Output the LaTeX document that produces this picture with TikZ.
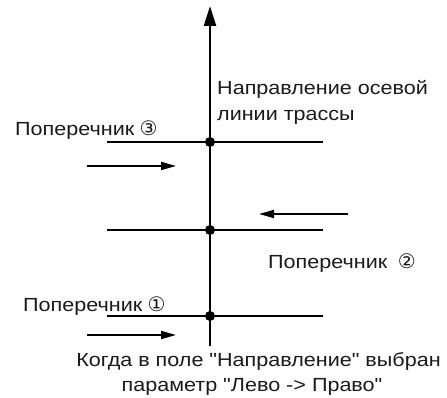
\documentclass[tikz,border=0pt]{standalone}
\usepackage{fontspec}
\setmainfont{Liberation Sans}[Ligatures=TeXOff]
\newfontfamily\circfont{DejaVu Sans}
\usetikzlibrary{arrows.meta}
\definecolor{ink}{HTML}{1A1A1A}
\newcommand{\wide}[1]{\scalebox{1.135}[1]{#1}}
\newcommand{\circd}[1]{{\circfont\fontsize{20}{24}\selectfont #1}}
\begin{document}
\begin{tikzpicture}[x=1pt,y=-1pt,
  lbl/.style={font=\fontsize{19}{24}\selectfont, inner sep=0pt, text=ink},
  cross/.style={line width=1.2pt},
  dir/.style={line width=1.8pt, -{Triangle[length=15pt,width=8pt]}},
  pt/.style={circle, fill=black, inner sep=0pt, minimum size=10pt}]
\useasboundingbox (0,0) rectangle (447,398);
\coordinate (top) at (210,6);
\coordinate (bot) at (210,346);
\node[pt] (p3) at (210,142) {};
\node[pt] (p2) at (210,230) {};
\node[pt] (p1) at (210,316) {};
\draw[line width=2.4pt, -{Triangle[length=20pt,width=12pt]}] (bot) -- (top);
\foreach \y/\n in {142/c, 230/b, 316/a} {
  \coordinate (\n L) at (107,\y);
  \coordinate (\n R) at (323,\y);
  \draw[cross] (\n L) -- (\n R);
}
\coordinate (a1s) at (87,166); \coordinate (a1e) at (176,166);
\coordinate (a2s) at (348,214); \coordinate (a2e) at (259,214);
\coordinate (a3s) at (87,335); \coordinate (a3e) at (176,335);
\draw[dir] (a1s) -- (a1e);
\draw[dir] (a2s) -- (a2e);
\draw[dir] (a3s) -- (a3e);
\node[lbl, anchor=base west] (axis1) at (217,94.5) {\wide{Направление осевой}};
\node[lbl, anchor=base west] (axis2) at (217,121) {\wide{линии трассы}};
\node[lbl, anchor=base west] (t3) at (15,136) {\wide{Поперечник} \circd{③}};
\node[lbl, anchor=base west] (t2) at (268,268.5) {\wide{Поперечник}\ \ \circd{②}};
\node[lbl, anchor=base west] (t1) at (23,311.5) {\wide{Поперечник} \circd{①}};
\node[lbl, anchor=base] (note1) at (258.5,366.5) {\wide{Когда в поле "Направление" выбран}};
\node[lbl, anchor=base] (note2) at (252,391) {\wide{параметр "Лево -> Право"}};
\end{tikzpicture}
\end{document}
